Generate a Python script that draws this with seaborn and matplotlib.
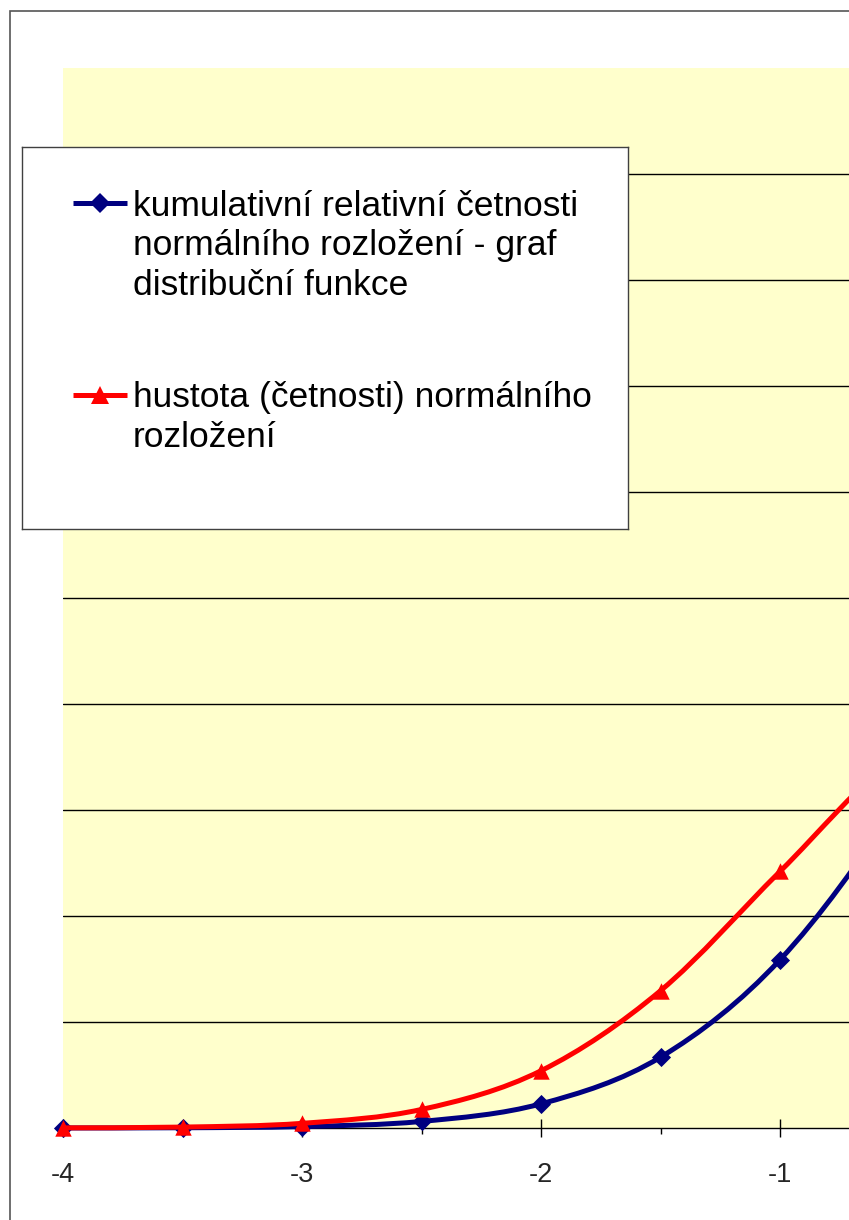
import numpy as np
import matplotlib
matplotlib.use("Agg")
import matplotlib.pyplot as plt
from matplotlib.path import Path as MplPath
from matplotlib.patches import PathPatch, Rectangle
from matplotlib.ticker import MultipleLocator, FixedLocator
import seaborn as sns

# values (x in steps of 0.5)
x_values = [-4.0, -3.5, -3.0, -2.5, -2.0, -1.5, -1.0, -0.5, 0.0]
cumulative = [0.00003, 0.00023, 0.00135, 0.0062, 0.0228, 0.0668, 0.1587, 0.3085, 0.5]
density = [0.00013, 0.00087, 0.0044, 0.0175, 0.054, 0.1295, 0.242, 0.352, 0.399]

label_cdf = "kumulativní relativní četnosti\nnormálního rozložení - graf\ndistribuční funkce"
label_pdf = "hustota (četnosti) normálního\nrozložení"

BLUE = "#000080"
RED = "#FF0000"
PLOT_BG = "#FFFFCC"

sns.set_style("white")
plt.rcParams["font.family"] = ["Liberation Sans", "DejaVu Sans"]
plt.rcParams["axes.unicode_minus"] = False

W, H = 849, 1220


def smooth_path(xs, ys):
    """Excel-like smoothed line: cubic Bezier segments through the points."""
    pts = np.column_stack([xs, ys])
    verts = [pts[0]]
    codes = [MplPath.MOVETO]
    n = len(pts)
    for i in range(n - 1):
        p0 = pts[i - 1] if i > 0 else pts[i]
        p1, p2 = pts[i], pts[i + 1]
        p3 = pts[i + 2] if i + 2 < n else pts[i + 1]
        c1 = p1 + (p2 - p0) / 6
        c2 = p2 - (p3 - p1) / 6
        verts += [c1, c2, p2]
        codes += [MplPath.CURVE4] * 3
    return MplPath(verts, codes)


fig = plt.figure(figsize=(W / 100, H / 100), dpi=100)
fig.patch.set_facecolor("white")

# chart area border (only top/left visible in the crop)
fig.patches.append(Rectangle((10 / W, -1), 5, 1 - 11 / H + 1, transform=fig.transFigure,
                             fill=False, edgecolor="#555555", linewidth=1.2))

# plot area: 239 px per x unit, cropped at the right edge of the image
px_per_unit = 239
left_px = 63
ax = fig.add_axes([left_px / W, 92 / H, (W - left_px) / W, 1060 / H])
ax.set_facecolor(PLOT_BG)

df_x = np.array(x_values)
ax.add_patch(PathPatch(smooth_path(df_x, cumulative), facecolor="none",
                       edgecolor=BLUE, linewidth=3.6, zorder=3, clip_on=False))
sns.scatterplot(x=x_values, y=cumulative, marker="D", s=95, color=BLUE,
                linewidth=0, ax=ax, zorder=4, clip_on=False)
ax.add_patch(PathPatch(smooth_path(df_x, density), facecolor="none",
                       edgecolor=RED, linewidth=3.6, zorder=5, clip_on=False))
sns.scatterplot(x=x_values, y=density, marker="^", s=140, color=RED,
                linewidth=0, ax=ax, zorder=6, clip_on=False)

ax.set_xlim(-4, -4 + (W - left_px) / px_per_unit)
ax.set_ylim(0, 1)
ax.xaxis.set_major_locator(MultipleLocator(1))
ax.xaxis.set_minor_locator(MultipleLocator(0.5))
ax.yaxis.set_major_locator(FixedLocator(np.arange(0.1, 0.95, 0.1)))
ax.set_yticklabels([])
ax.grid(axis="y", color="black", linewidth=1)
ax.grid(axis="x", visible=False)
ax.tick_params(axis="y", length=0)
ax.tick_params(axis="x", which="major", direction="inout", length=13, width=1,
               color="black", labelsize=19.5, pad=18, bottom=True)
ax.tick_params(axis="x", which="minor", direction="out", length=4.5, width=1,
               color="black", bottom=True)
for side in ["top", "right", "left"]:
    ax.spines[side].set_visible(False)
ax.spines["bottom"].set_color("black")
ax.spines["bottom"].set_linewidth(1)
ax.set_xlabel("")
ax.set_ylabel("")

# legend box drawn by hand so handles sit on the first line of each label
lx0, ly0, lx1, ly1 = 22, 147, 628, 529
lax = fig.add_axes([lx0 / W, (H - ly1) / H, (lx1 - lx0) / W, (ly1 - ly0) / H])
lax.set_xlim(0, lx1 - lx0)
lax.set_ylim(ly1 - ly0, 0)
lax.set_facecolor("white")
lax.set_xticks([])
lax.set_yticks([])
for sp in lax.spines.values():
    sp.set_visible(True)
    sp.set_color("#404040")
    sp.set_linewidth(1)

entries = [(56, 43, BLUE, "D", 10, label_cdf), (248, 234, RED, "^", 13, label_pdf)]
for y, top, col, mk, ms, text in entries:
    lax.plot([51, 105], [y, y], color=col, linewidth=3.6, solid_capstyle="butt")
    lax.plot([78], [y], marker=mk, color=col, markersize=ms, markeredgewidth=0)
    lax.text(111, top, text, fontsize=25.5, va="top", ha="left",
             linespacing=1.25, color="black")

fig.savefig("out.png", dpi=100)
